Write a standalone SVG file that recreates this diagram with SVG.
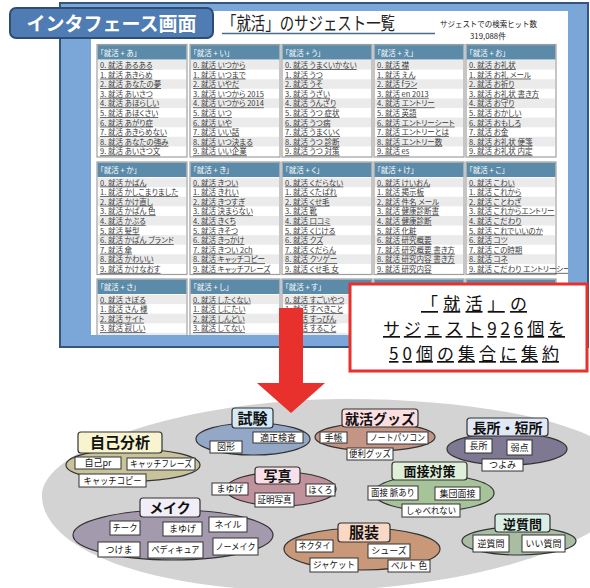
<svg xmlns="http://www.w3.org/2000/svg" width="590" height="588" viewBox="0 0 590 588">
<style>
.hd{fill:#5b8ba8}
.bx{fill:#fff;stroke:#a0a0a0;stroke-width:1.2}
.ht{font-family:"Noto Sans CJK JP","Noto Sans",sans-serif;font-size:7.5px;fill:#fff;font-feature-settings:"palt"}
.it{font-family:"Noto Sans CJK JP","Noto Sans",sans-serif;font-size:7.5px;fill:#3a3a3a;text-decoration:underline;font-feature-settings:"palt"}
.el{stroke:#333;stroke-width:1.2}
.tb{stroke:#333;stroke-width:1.2}
.tt{font-family:"Noto Sans CJK JP","Noto Sans",sans-serif;font-weight:700;fill:#111;text-anchor:middle}
.lb{fill:#fff;stroke:#333;stroke-width:1}
.lt{font-family:"Noto Sans CJK JP","Noto Sans",sans-serif;font-size:9px;fill:#111;text-anchor:middle}
.rt{font-family:"Noto Sans CJK JP","Noto Sans",sans-serif;font-size:17px;fill:#111;text-anchor:middle;text-decoration:underline}
</style>
<defs>
<pattern id="s1" x="0" y="60" width="10" height="19.2" patternUnits="userSpaceOnUse"><rect width="10" height="9.6" fill="#ebebeb"/></pattern>
<pattern id="s2" x="0" y="177.5" width="10" height="19.2" patternUnits="userSpaceOnUse"><rect width="10" height="9.6" fill="#ebebeb"/></pattern>
<pattern id="s3" x="0" y="294.5" width="10" height="19.2" patternUnits="userSpaceOnUse"><rect width="10" height="9.6" fill="#ebebeb"/></pattern>
<clipPath id="pg"><rect x="91" y="11" width="477" height="324"/></clipPath>
</defs>

<!-- screenshot frame -->
<g id="screenshot">
<rect x="60" y="3" width="528" height="344" fill="#7ba7d8" stroke="#34567e" stroke-width="2"/>
<rect x="91" y="11" width="477" height="324" fill="#fff"/>
<text x="222" y="30" font-family="'Noto Sans CJK JP',sans-serif" font-size="18" fill="#222" textLength="173" lengthAdjust="spacingAndGlyphs">「就活」のサジェスト一覧</text>
<line x1="222" y1="33.5" x2="435" y2="33.5" stroke="#4a6a8a" stroke-width="1.5"/>
<text x="440" y="26.5" font-family="'Noto Sans CJK JP',sans-serif" font-size="7.8" fill="#222" textLength="97" lengthAdjust="spacingAndGlyphs">サジェストでの検索ヒット数</text>
<text x="488" y="38.5" font-family="'Noto Sans CJK JP',sans-serif" font-size="7.8" fill="#222" text-anchor="middle">319,088件</text>

<g clip-path="url(#pg)">
<!-- row 1 -->
<g id="col-a">
<rect class="bx" x="97" y="44.5" width="90" height="112.5"/><rect class="hd" x="97.6" y="45.1" width="88.8" height="14.4"/><rect fill="url(#s1)" x="98" y="60" width="88" height="96"/>
<text class="ht" x="100" y="55.5">「就活 + あ」</text>
<text class="it"><tspan x="100" y="68">0. 就活 あるある</tspan><tspan x="100" y="77.6">1. 就活 あきらめ</tspan><tspan x="100" y="87.2">2. 就活 あなたの夢</tspan><tspan x="100" y="96.8">3. 就活 あいさつ</tspan><tspan x="100" y="106.4">4. 就活 あほらしい</tspan><tspan x="100" y="116">5. 就活 あほくさい</tspan><tspan x="100" y="125.6">6. 就活 あがり症</tspan><tspan x="100" y="135.2">7. 就活 あきらめない</tspan><tspan x="100" y="144.8">8. 就活 あなたの強み</tspan><tspan x="100" y="154.4">9. 就活 あいさつ文</tspan></text>
</g>
<g id="col-i">
<rect class="bx" x="190" y="44.5" width="90" height="112.5"/><rect class="hd" x="190.6" y="45.1" width="88.8" height="14.4"/><rect fill="url(#s1)" x="191" y="60" width="88" height="96"/>
<text class="ht" x="193" y="55.5">「就活 + い」</text>
<text class="it"><tspan x="193" y="68">0. 就活 いつから</tspan><tspan x="193" y="77.6">1. 就活 いつまで</tspan><tspan x="193" y="87.2">2. 就活 いやだ</tspan><tspan x="193" y="96.8">3. 就活 いつから 2015</tspan><tspan x="193" y="106.4">4. 就活 いつから 2014</tspan><tspan x="193" y="116">5. 就活 いつ</tspan><tspan x="193" y="125.6">6. 就活 いや</tspan><tspan x="193" y="135.2">7. 就活 いい話</tspan><tspan x="193" y="144.8">8. 就活 いつ決まる</tspan><tspan x="193" y="154.4">9. 就活 いい企業</tspan></text>
</g>
<g id="col-u">
<rect class="bx" x="282" y="44.5" width="90" height="112.5"/><rect class="hd" x="282.6" y="45.1" width="88.8" height="14.4"/><rect fill="url(#s1)" x="283" y="60" width="88" height="96"/>
<text class="ht" x="285" y="55.5">「就活 + う」</text>
<text class="it"><tspan x="285" y="68">0. 就活 うまくいかない</tspan><tspan x="285" y="77.6">1. 就活 うつ</tspan><tspan x="285" y="87.2">2. 就活 うそ</tspan><tspan x="285" y="96.8">3. 就活 うざい</tspan><tspan x="285" y="106.4">4. 就活 うんざり</tspan><tspan x="285" y="116">5. 就活 うつ 症状</tspan><tspan x="285" y="125.6">6. 就活 うつ病</tspan><tspan x="285" y="135.2">7. 就活 うまくいく</tspan><tspan x="285" y="144.8">8. 就活 うつ 診断</tspan><tspan x="285" y="154.4">9. 就活 うつ 対策</tspan></text>
</g>
<g id="col-e">
<rect class="bx" x="374" y="44.5" width="90" height="112.5"/><rect class="hd" x="374.6" y="45.1" width="88.8" height="14.4"/><rect fill="url(#s1)" x="375" y="60" width="88" height="96"/>
<text class="ht" x="377" y="55.5">「就活 + え」</text>
<text class="it"><tspan x="377" y="68">0. 就活 襟</tspan><tspan x="377" y="77.6">1. 就活 えん</tspan><tspan x="377" y="87.2">2. 就活 fラン</tspan><tspan x="377" y="96.8">3. 就活 en 2013</tspan><tspan x="377" y="106.4">4. 就活 エントリー</tspan><tspan x="377" y="116">5. 就活 英語</tspan><tspan x="377" y="125.6">6. 就活 エントリーシート</tspan><tspan x="377" y="135.2">7. 就活 エントリーとは</tspan><tspan x="377" y="144.8">8. 就活 エントリー数</tspan><tspan x="377" y="154.4">9. 就活 es</tspan></text>
</g>
<g id="col-o">
<rect class="bx" x="466" y="44.5" width="90" height="112.5"/><rect class="hd" x="466.6" y="45.1" width="88.8" height="14.4"/><rect fill="url(#s1)" x="467" y="60" width="88" height="96"/>
<text class="ht" x="469" y="55.5">「就活 + お」</text>
<text class="it"><tspan x="469" y="68">0. 就活 お礼状</tspan><tspan x="469" y="77.6">1. 就活 お礼 メール</tspan><tspan x="469" y="87.2">2. 就活 お祈り</tspan><tspan x="469" y="96.8">3. 就活 お礼状 書き方</tspan><tspan x="469" y="106.4">4. 就活 お守り</tspan><tspan x="469" y="116">5. 就活 おかしい</tspan><tspan x="469" y="125.6">6. 就活 おもしろ</tspan><tspan x="469" y="135.2">7. 就活 お金</tspan><tspan x="469" y="144.8">8. 就活 お礼状 便箋</tspan><tspan x="469" y="154.4">9. 就活 お礼状 内定</tspan></text>
</g>
<!-- row 2 -->
<g id="col-ka">
<rect class="bx" x="97" y="162" width="90" height="112.5"/><rect class="hd" x="97.6" y="162.6" width="88.8" height="14.4"/><rect fill="url(#s2)" x="98" y="177.5" width="88" height="96"/>
<text class="ht" x="100" y="173">「就活 + か」</text>
<text class="it"><tspan x="100" y="185.5">0. 就活 かばん</tspan><tspan x="100" y="195.1">1. 就活 かしこまりました</tspan><tspan x="100" y="204.7">2. 就活 かけ直し</tspan><tspan x="100" y="214.3">3. 就活 かばん 色</tspan><tspan x="100" y="223.9">4. 就活 かぶる</tspan><tspan x="100" y="233.5">5. 就活 髪型</tspan><tspan x="100" y="243.1">6. 就活 かばん ブランド</tspan><tspan x="100" y="252.7">7. 就活 傘</tspan><tspan x="100" y="262.3">8. 就活 かわいい</tspan><tspan x="100" y="271.9">9. 就活 かけなおす</tspan></text>
</g>
<g id="col-ki">
<rect class="bx" x="190" y="162" width="90" height="112.5"/><rect class="hd" x="190.6" y="162.6" width="88.8" height="14.4"/><rect fill="url(#s2)" x="191" y="177.5" width="88" height="96"/>
<text class="ht" x="193" y="173">「就活 + き」</text>
<text class="it"><tspan x="193" y="185.5">0. 就活 きつい</tspan><tspan x="193" y="195.1">1. 就活 きれい</tspan><tspan x="193" y="204.7">2. 就活 きつすぎ</tspan><tspan x="193" y="214.3">3. 就活 決まらない</tspan><tspan x="193" y="223.9">4. 就活 きくち</tspan><tspan x="193" y="233.5">5. 就活 きそつ</tspan><tspan x="193" y="243.1">6. 就活 きっかけ</tspan><tspan x="193" y="252.7">7. 就活 きつい 2ch</tspan><tspan x="193" y="262.3">8. 就活 キャッチコピー</tspan><tspan x="193" y="271.9">9. 就活 キャッチフレーズ</tspan></text>
</g>
<g id="col-ku">
<rect class="bx" x="282" y="162" width="90" height="112.5"/><rect class="hd" x="282.6" y="162.6" width="88.8" height="14.4"/><rect fill="url(#s2)" x="283" y="177.5" width="88" height="96"/>
<text class="ht" x="285" y="173">「就活 + く」</text>
<text class="it"><tspan x="285" y="185.5">0. 就活 くだらない</tspan><tspan x="285" y="195.1">1. 就活 くたばれ</tspan><tspan x="285" y="204.7">2. 就活 くせ毛</tspan><tspan x="285" y="214.3">3. 就活 靴</tspan><tspan x="285" y="223.9">4. 就活 口コミ</tspan><tspan x="285" y="233.5">5. 就活 くじける</tspan><tspan x="285" y="243.1">6. 就活 クズ</tspan><tspan x="285" y="252.7">7. 就活 くだらん</tspan><tspan x="285" y="262.3">8. 就活 クソゲー</tspan><tspan x="285" y="271.9">9. 就活 くせ毛 女</tspan></text>
</g>
<g id="col-ke">
<rect class="bx" x="374" y="162" width="90" height="112.5"/><rect class="hd" x="374.6" y="162.6" width="88.8" height="14.4"/><rect fill="url(#s2)" x="375" y="177.5" width="88" height="96"/>
<text class="ht" x="377" y="173">「就活 + け」</text>
<text class="it"><tspan x="377" y="185.5">0. 就活 けいおん</tspan><tspan x="377" y="195.1">1. 就活 掲示板</tspan><tspan x="377" y="204.7">2. 就活 件名 メール</tspan><tspan x="377" y="214.3">3. 就活 健康診断書</tspan><tspan x="377" y="223.9">4. 就活 健康診断</tspan><tspan x="377" y="233.5">5. 就活 化粧</tspan><tspan x="377" y="243.1">6. 就活 研究概要</tspan><tspan x="377" y="252.7">7. 就活 研究概要 書き方</tspan><tspan x="377" y="262.3">8. 就活 研究内容 書き方</tspan><tspan x="377" y="271.9">9. 就活 研究内容</tspan></text>
</g>
<g id="col-ko">
<rect class="bx" x="466" y="162" width="90" height="112.5"/><rect class="hd" x="466.6" y="162.6" width="88.8" height="14.4"/><rect fill="url(#s2)" x="467" y="177.5" width="88" height="96"/>
<text class="ht" x="469" y="173">「就活 + こ」</text>
<text class="it"><tspan x="469" y="185.5">0. 就活 こわい</tspan><tspan x="469" y="195.1">1. 就活 これから</tspan><tspan x="469" y="204.7">2. 就活 ことわざ</tspan><tspan x="469" y="214.3">3. 就活 これからエントリー</tspan><tspan x="469" y="223.9">4. 就活 こだわり</tspan><tspan x="469" y="233.5">5. 就活 これでいいのか</tspan><tspan x="469" y="243.1">6. 就活 コツ</tspan><tspan x="469" y="252.7">7. 就活 この時期</tspan><tspan x="469" y="262.3">8. 就活 コネ</tspan><tspan x="469" y="271.9">9. 就活 こだわり エントリーシート</tspan></text>
</g>
<!-- row 3 -->
<g id="col-sa">
<rect class="bx" x="97" y="279" width="90" height="112.5"/><rect class="hd" x="97.6" y="279.6" width="88.8" height="14.4"/><rect fill="url(#s3)" x="98" y="294.5" width="88" height="96"/>
<text class="ht" x="100" y="290">「就活 + さ」</text>
<text class="it"><tspan x="100" y="302.5">0. 就活 さぼる</tspan><tspan x="100" y="312.1">1. 就活 さん 様</tspan><tspan x="100" y="321.7">2. 就活 サイト</tspan><tspan x="100" y="331.3">3. 就活 寂しい</tspan></text>
</g>
<g id="col-shi">
<rect class="bx" x="190" y="279" width="90" height="112.5"/><rect class="hd" x="190.6" y="279.6" width="88.8" height="14.4"/><rect fill="url(#s3)" x="191" y="294.5" width="88" height="96"/>
<text class="ht" x="193" y="290">「就活 + し」</text>
<text class="it"><tspan x="193" y="302.5">0. 就活 したくない</tspan><tspan x="193" y="312.1">1. 就活 しにたい</tspan><tspan x="193" y="321.7">2. 就活 しんどい</tspan><tspan x="193" y="331.3">3. 就活 してない</tspan></text>
</g>
<g id="col-su">
<rect class="bx" x="282" y="279" width="90" height="112.5"/><rect class="hd" x="282.6" y="279.6" width="88.8" height="14.4"/><rect fill="url(#s3)" x="283" y="294.5" width="88" height="96"/>
<text class="ht" x="285" y="290">「就活 + す」</text>
<text class="it"><tspan x="285" y="302.5">0. 就活 すごいやつ</tspan><tspan x="285" y="312.1">1. 就活 すべきこと</tspan><tspan x="285" y="321.7">2. 就活 すっぴん</tspan><tspan x="285" y="331.3">3. 就活 すること</tspan></text>
</g>
<g id="col-se">
<rect class="bx" x="374" y="279" width="90" height="112.5"/><rect class="hd" x="374.6" y="279.6" width="88.8" height="14.4"/>
</g>
<g id="col-so">
<rect class="bx" x="466" y="279" width="90" height="112.5"/><rect class="hd" x="466.6" y="279.6" width="88.8" height="14.4"/>
</g>
</g>
</g>

<g id="title-label">
<rect x="10" y="8" width="203" height="30" rx="6" fill="#4f7cb3" stroke="#2d4d75" stroke-width="2"/>
<text x="111.5" y="30.5" font-family="'Noto Sans CJK JP',sans-serif" font-size="19" font-weight="700" fill="#fff" text-anchor="middle">インタフェース画面</text>
</g>

<!-- gray cluster area -->
<path id="cluster-area" d="M 42 497 C 40 447, 190 400, 340 399 C 480 398, 630 425, 632 480 C 634 540, 470 592, 300 591 C 150 590, 44 550, 42 497 Z" fill="#d3d3d3"/>

<g id="callout">
<rect x="350" y="284" width="237" height="87" fill="#fff" stroke="#e8302c" stroke-width="3"/>
<text class="rt" x="474" y="310" textLength="106" lengthAdjust="spacing">「就活」の</text>
<text class="rt" x="474" y="335" textLength="182" lengthAdjust="spacing">サジェスト926個を</text>
<text class="rt" x="474" y="360" textLength="170" lengthAdjust="spacing">50個の集合に集約</text>
</g>

<g id="connectors">
<path d="M279 308 L303 308 L303 383 L325 383 L291 413 L257 383 L279 383 Z" fill="#e8302c"/>
</g>

<g id="node-jikobunseki">
<ellipse class="el" cx="133" cy="465" rx="67" ry="16" fill="#c9c39b"/>
<rect class="tb" x="78" y="432" width="84" height="21" rx="3" fill="#f8f4d0"/>
<text class="tt" x="120" y="448" font-size="15">自己分析</text>
<rect class="lb" x="75" y="457" width="46" height="12"/><text class="lt" x="98" y="466.3">自己pr</text>
<rect class="lb" x="127" y="458" width="68" height="12"/><text class="lt" x="161" y="467.3" textLength="62" lengthAdjust="spacingAndGlyphs">キャッチフレーズ</text>
<rect class="lb" x="79" y="474" width="67" height="13"/><text class="lt" x="112.5" y="483.8" textLength="58" lengthAdjust="spacingAndGlyphs">キャッチコピー</text>
</g>

<g id="node-shiken">
<ellipse class="el" cx="253" cy="439" rx="57" ry="16" fill="#93a7c7"/>
<rect class="tb" x="232" y="408" width="41" height="20" rx="3" fill="#d5eaf7"/>
<text class="tt" x="252.5" y="424" font-size="15">試験</text>
<rect class="lb" x="253" y="432" width="50" height="11"/><text class="lt" x="278" y="440.8">適正検査</text>
<rect class="lb" x="210" y="441" width="32" height="12"/><text class="lt" x="226" y="450.3">図形</text>
</g>

<g id="node-goods">
<ellipse class="el" cx="375" cy="437" rx="60" ry="14" fill="#c49585"/>
<rect class="tb" x="342" y="409" width="76" height="18" rx="3" fill="#fbdfe0"/>
<text class="tt" x="380" y="423.5" font-size="14">就活グッズ</text>
<rect class="lb" x="320" y="432" width="27" height="11"/><text class="lt" x="333.5" y="440.8">手帳</text>
<rect class="lb" x="367" y="432" width="61" height="12"/><text class="lt" x="397.5" y="441.3" textLength="55" lengthAdjust="spacingAndGlyphs">ノートパソコン</text>
<rect class="lb" x="347" y="448" width="46" height="12"/><text class="lt" x="370" y="457.3" textLength="42" lengthAdjust="spacingAndGlyphs">便利グッズ</text>
</g>

<g id="node-chousho">
<ellipse class="el" cx="507" cy="449" rx="60" ry="16" fill="#7e7892"/>
<rect class="tb" x="467" y="418" width="81" height="18" rx="3" fill="#e1e8f5"/>
<text class="tt" x="507.5" y="432.5" font-size="14">長所・短所</text>
<rect class="lb" x="465" y="439" width="27" height="14"/><text class="lt" x="478.5" y="449.3">長所</text>
<rect class="lb" x="507" y="440" width="25" height="15"/><text class="lt" x="519.5" y="450.8">弱点</text>
<rect class="lb" x="482" y="459" width="41" height="12"/><text class="lt" x="502.5" y="468.3">つよみ</text>
</g>

<g id="node-shashin">
<ellipse class="el" cx="281" cy="489" rx="55" ry="17" fill="#c0929c"/>
<rect class="tb" x="255" y="467" width="45" height="17" rx="3" fill="#f8e0e8"/>
<text class="tt" x="277.5" y="480.5" font-size="14">写真</text>
<rect class="lb" x="212" y="483" width="36" height="12"/><text class="lt" x="230" y="492.3">まゆげ</text>
<rect class="lb" x="306" y="484" width="29" height="12"/><text class="lt" x="320.5" y="493.3" textLength="24" lengthAdjust="spacingAndGlyphs">ほくろ</text>
<rect class="lb" x="255" y="493" width="39" height="14"/><text class="lt" x="274.5" y="503.3" textLength="34" lengthAdjust="spacingAndGlyphs">証明写真</text>
</g>

<g id="node-mensetsu">
<ellipse class="el" cx="434" cy="493" rx="60" ry="18" fill="#a6c39a"/>
<rect class="tb" x="392" y="462" width="75" height="18" rx="3" fill="#e0efd8"/>
<text class="tt" x="429.5" y="476" font-size="13">面接対策</text>
<rect class="lb" x="368" y="486" width="50" height="14"/><text class="lt" x="393" y="496.3" textLength="44" lengthAdjust="spacingAndGlyphs">面接 脈あり</text>
<rect class="lb" x="435" y="487" width="45" height="13"/><text class="lt" x="457.5" y="496.8">集団面接</text>
<rect class="lb" x="402" y="504" width="58" height="13"/><text class="lt" x="431" y="513.8" textLength="50" lengthAdjust="spacingAndGlyphs">しゃべれない</text>
</g>

<g id="node-meiku">
<ellipse class="el" cx="173" cy="535" rx="100" ry="25" fill="#a49aae"/>
<rect class="tb" x="140" y="498" width="60" height="19" rx="3" fill="#f2eef7"/>
<text class="tt" x="170" y="513" font-size="14">メイク</text>
<rect class="lb" x="110" y="521" width="30" height="14"/><text class="lt" x="125" y="531.3" textLength="25" lengthAdjust="spacingAndGlyphs">チーク</text>
<rect class="lb" x="163" y="522" width="39" height="14"/><text class="lt" x="182.5" y="532.3">まゆげ</text>
<rect class="lb" x="209" y="517" width="38" height="15"/><text class="lt" x="228" y="527.8">ネイル</text>
<rect class="lb" x="98" y="542" width="42" height="15"/><text class="lt" x="119" y="552.8">つけま</text>
<rect class="lb" x="148" y="542" width="55" height="16"/><text class="lt" x="175.5" y="553.3" textLength="48" lengthAdjust="spacingAndGlyphs">ペディキュア</text>
<rect class="lb" x="213" y="538" width="45" height="17"/><text class="lt" x="235.5" y="549.8" textLength="40" lengthAdjust="spacingAndGlyphs">ノーメイク</text>
</g>

<g id="node-fukusou">
<ellipse class="el" cx="362" cy="549" rx="78" ry="21" fill="#c99878"/>
<rect class="tb" x="338" y="523" width="52" height="19" rx="3" fill="#f9d8c6"/>
<text class="tt" x="364" y="538" font-size="15">服装</text>
<rect class="lb" x="296" y="540" width="37" height="12"/><text class="lt" x="314.5" y="549.3" textLength="32" lengthAdjust="spacingAndGlyphs">ネクタイ</text>
<rect class="lb" x="368" y="544" width="42" height="14"/><text class="lt" x="389" y="554.3">シューズ</text>
<rect class="lb" x="310" y="558" width="48" height="14"/><text class="lt" x="334" y="568.3" textLength="42" lengthAdjust="spacingAndGlyphs">ジャケット</text>
<rect class="lb" x="388" y="560" width="42" height="12"/><text class="lt" x="409" y="569.3" textLength="36" lengthAdjust="spacingAndGlyphs">ベルト 色</text>
</g>

<g id="node-gyaku">
<ellipse class="el" cx="519" cy="541" rx="57" ry="14" fill="#a8bda2"/>
<rect class="tb" x="495" y="514" width="55" height="18" rx="3" fill="#d9efe5"/>
<text class="tt" x="522.5" y="528.5" font-size="13">逆質問</text>
<rect class="lb" x="473" y="535" width="36" height="17"/><text class="lt" x="491" y="546.8">逆質問</text>
<rect class="lb" x="522" y="535" width="43" height="17"/><text class="lt" x="543.5" y="546.8">いい質問</text>
</g>
</svg>
